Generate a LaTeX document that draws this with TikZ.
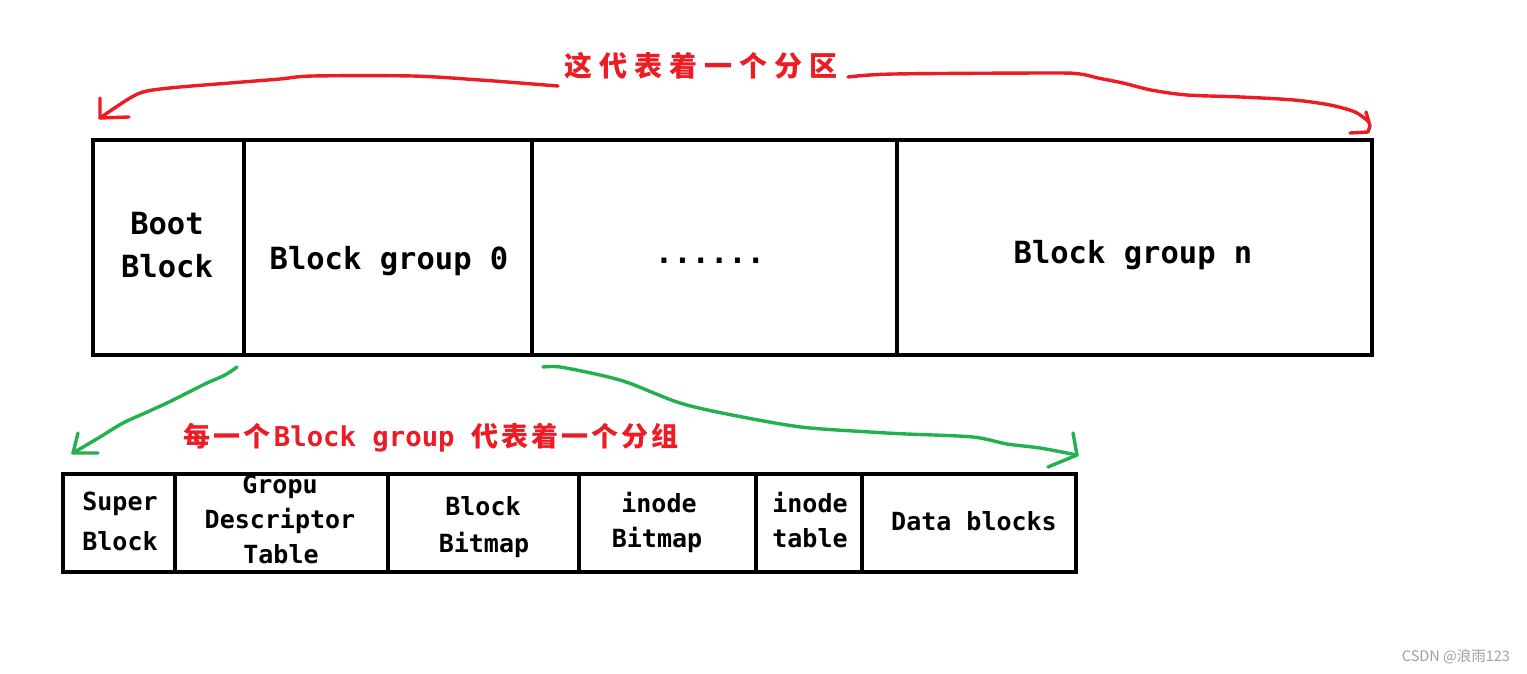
\documentclass[tikz,border=0pt]{standalone}
\usepackage{fontspec}
\newfontfamily\lab{DejaVu Sans Mono}
\newfontfamily\cjk{Noto Sans CJK SC}
\newcommand\gap[1]{\hspace{#1pt}}
\definecolor{pred}{HTML}{ED1C24}
\definecolor{pgreen}{HTML}{22B14C}
\definecolor{wmgray}{HTML}{A0A0A0}
\begin{document}
\begin{tikzpicture}[x=1pt,y=-1pt,
  cell/.style={draw=black, line width=4pt, inner sep=0pt, outer sep=0pt},
  big/.style={font=\lab\bfseries\fontsize{30.5}{36}\selectfont, anchor=base, inner sep=0pt},
  small/.style={font=\lab\bfseries\fontsize{25}{30}\selectfont, anchor=base, inner sep=0pt},
  redpen/.style={draw=pred, line width=3.4pt, line cap=round, line join=round},
  greenpen/.style={draw=pgreen, line width=3.4pt, line cap=round, line join=round},
  rlabel/.style={text=pred, inner sep=0pt}]
\fill[white] (0,0) rectangle (1527,673);
\useasboundingbox (0,0) rectangle (1527,673);

% top partition
\node[cell, minimum width=151pt, minimum height=215pt] (boot) at (168.5,247.5) {};
\node[cell, minimum width=288pt, minimum height=215pt] (bg0) at (388,247.5) {};
\node[cell, minimum width=365pt, minimum height=215pt] (dots) at (714.5,247.5) {};
\node[cell, minimum width=475pt, minimum height=215pt] (bgn) at (1134.5,247.5) {};

\node[big] (tboot) at (167,234) {Boot};
\node[big] (tboot2) at (167,277) {Block};
\node[big] (tbg0) at (389,269) {Block group 0};
\node[big] (tdots) at (710,263) {......};
\node[big] (tbgn) at (1133,263) {Block group n};

% bottom block group
\node[cell, minimum width=112pt, minimum height=98pt] (sb) at (119,523) {};
\node[cell, minimum width=213pt, minimum height=98pt] (gdt) at (281.5,523) {};
\node[cell, minimum width=191pt, minimum height=98pt] (bbm) at (483.5,523) {};
\node[cell, minimum width=177pt, minimum height=98pt] (ibm) at (667.5,523) {};
\node[cell, minimum width=106pt, minimum height=98pt] (it) at (809,523) {};
\node[cell, minimum width=214pt, minimum height=98pt] (db) at (969,523) {};

\node[small] (tsb1) at (120,510) {Super};
\node[small] (tsb2) at (120,550) {Block};
\node[small] (tg1) at (280,493) {Gropu};
\node[small] (tg2) at (280,528) {Descriptor};
\node[small] (tg3) at (281,563) {Table};
\node[small] (tb1) at (483,515) {Block};
\node[small] (tb2) at (484,552) {Bitmap};
\node[small] (ti1) at (659,512) {inode};
\node[small] (ti2) at (657,547) {Bitmap};
\node[small] (tt1) at (810,512) {inode};
\node[small] (tt2) at (810,547) {table};
\node[small] (tdb) at (974,530) {Data blocks};

% red labels
\node[rlabel, font=\cjk\bfseries\fontsize{28}{32}\selectfont] (part) at (701,66)
  {这\gap7代\gap7表\gap7着\gap7一\gap7个\gap7分\gap7区};
\node[rlabel] (grp) at (431,438)
  {\cjk\bfseries\fontsize{27}{32}\selectfont 每\gap3一\gap3个\gap3{\lab\bfseries\fontsize{27.3}{32}\selectfont Block group }代\gap3表\gap3着\gap3一\gap3个\gap3分\gap3组};

% red arrows
\coordinate (rlS) at (558,86);
\coordinate (rlE) at (100,118);
\draw[redpen] plot[smooth, tension=0.5] coordinates {(rlS) (520,83) (480,80) (413,76) (313,76) (280,79) (230,83) (180,87) (147,91) (130,98) (rlE)};
\draw[redpen] (100,98) -- (rlE) -- (129,117);

\coordinate (rrS) at (848,77);
\coordinate (rrE) at (1369,122);
\draw[redpen] plot[smooth, tension=0.5] coordinates {(rrS) (894,74) (1051,73) (1080,74) (1098,78) (1123,83) (1151,90) (1187,95) (1241,97) (1294,100) (1330,105) (1355,112) (rrE)};
\draw[redpen] (1366,112) -- (1370,126) -- (1368,132) -- (1350,133);

% green arrows
\coordinate (glS) at (237,367);
\coordinate (glE) at (73,453);
\draw[greenpen] plot[smooth, tension=0.5] coordinates {(glS) (225,375) (207,383) (187,393) (167,403) (145,413) (123,423) (100,437) (glE)};
\draw[greenpen] (78,433) -- (glE) -- (98,453);

\coordinate (grS) at (543,367);
\coordinate (grE) at (1077,455);
\draw[greenpen] plot[smooth, tension=0.5] coordinates {(grS) (560,367) (600,375) (629,383) (680,403) (732,415) (801,427) (870,432) (907,434) (973,437) (1007,444) (1040,448) (grE)};
\draw[greenpen] (1073,433) -- (grE) -- (1048,467);

% watermark
\node[text=wmgray, font=\cjk\fontsize{14.5}{16}\selectfont, inner sep=0pt] (wm) at (1456,657) {CSDN @浪雨123};
\end{tikzpicture}
\end{document}
